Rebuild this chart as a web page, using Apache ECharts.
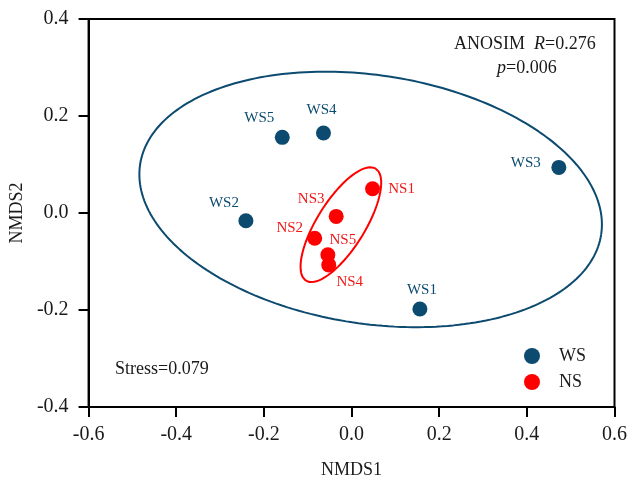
<!DOCTYPE html>
<html>
<head>
<meta charset="utf-8">
<script src="https://cdn.jsdelivr.net/npm/echarts@6/dist/echarts.min.js"></script>
<style>
html,body{margin:0;padding:0;background:#fff;}
#chart{width:630px;height:484px;}
</style>
</head>
<body>
<div id="chart"></div>
<script>
// ---- data ----
const wsNames = ['WS1','WS2','WS3','WS4','WS5'];
const wsX = [0.156, -0.241, 0.473, -0.064, -0.158];
const wsY = [-0.198, -0.016, 0.094, 0.165, 0.156];
const nsNames = ['NS1','NS2','NS3','NS4','NS5'];
const nsX = [0.048, -0.084, -0.035, -0.052, -0.054];
const nsY = [0.050, -0.052, -0.007, -0.107, -0.086];
const xTickLabels = ['-0.6','-0.4','-0.2','0.0','0.2','0.4','0.6'];
const yTickLabels = ['-0.4','-0.2','0.0','0.2','0.4'];
// ellipse parameters (center, semi-axis vectors) in data units
const wsEllipseCenter = [0.0436, 0.028];
const wsEllipseAxisA = [0.526, -0.072];
const wsEllipseAxisB = [-0.042, -0.2534];
const nsEllipseCenter = [-0.0243, -0.0241];
const nsEllipseAxisA = [0.0795, 0.1154];
const nsEllipseAxisB = [0.0463, -0.0262];

// ---- label placement (style, not data) ----
const labelOffsets = {
  WS1:[2,-19], WS2:[-22,-18], WS3:[-33,-4], WS4:[-2,-23], WS5:[-23,-19],
  NS1:[29,0], NS2:[-25,-10], NS3:[-25,-17], NS4:[21,17], NS5:[15,-15]
};

const BLUE = '#0c4a70';
const RED = '#ff0000';
const FONT = '"Liberation Serif","Times New Roman",serif';

function ellipsePoints(c, a, b) {
  const pts = [];
  const n = 240;
  for (let i = 0; i <= n; i++) {
    const t = 2 * Math.PI * i / n;
    pts.push([c[0] + a[0]*Math.cos(t) + b[0]*Math.sin(t),
              c[1] + a[1]*Math.cos(t) + b[1]*Math.sin(t)]);
  }
  return pts;
}

function pointData(names, xs, ys) {
  return names.map((nm, i) => ({
    name: nm,
    value: [xs[i], ys[i]],
    label: { offset: labelOffsets[nm] }
  }));
}

const chart = echarts.init(document.getElementById('chart'), null, {renderer: 'canvas'});

const axisCommon = {
  type: 'value',
  interval: 0.2,
  splitLine: { show: false },
  axisLine: { show: true, onZero: false, lineStyle: { color: '#000', width: 2 } },
  axisTick: { show: true, inside: false, length: 10, lineStyle: { color: '#000', width: 2 } },
  nameTextStyle: { fontFamily: FONT, fontSize: 18, color: '#1a1a1a' }
};

const option = {
  backgroundColor: '#fff',
  animation: false,
  grid: { left: 88, right: 14, top: 19, bottom: 76, show: true, borderColor: '#000', borderWidth: 2, backgroundColor: 'transparent' },
  xAxis: Object.assign({}, axisCommon, {
    min: -0.6, max: 0.6,
    name: 'NMDS1', nameLocation: 'middle', nameGap: 54,
    axisLabel: { margin: 18, fontFamily: FONT, fontSize: 20, color: '#1a1a1a',
      formatter: v => xTickLabels[Math.round((v + 0.6) / 0.2)] }
  }),
  yAxis: Object.assign({}, axisCommon, {
    min: -0.4, max: 0.4,
    name: 'NMDS2', nameLocation: 'middle', nameGap: 61, nameRotate: 90,
    axisLabel: { margin: 20, fontFamily: FONT, fontSize: 20, color: '#1a1a1a',
      formatter: v => yTickLabels[Math.round((v + 0.4) / 0.2)] }
  }),
  legend: {
    data: ['WS', 'NS'],
    orient: 'vertical',
    left: 519, top: 342,
    itemWidth: 16, itemHeight: 16, itemGap: 8,
    icon: 'circle',
    textStyle: { fontFamily: FONT, fontSize: 18, color: '#1a1a1a', padding: [0, 0, 0, 14] }
  },
  series: [
    { type: 'line', name: 'wsEllipse', data: ellipsePoints(wsEllipseCenter, wsEllipseAxisA, wsEllipseAxisB),
      showSymbol: false, symbol: 'none', smooth: false, silent: true, z: 1,
      lineStyle: { color: BLUE, width: 2 } },
    { type: 'line', name: 'nsEllipse', data: ellipsePoints(nsEllipseCenter, nsEllipseAxisA, nsEllipseAxisB),
      showSymbol: false, symbol: 'none', smooth: false, silent: true, z: 1,
      lineStyle: { color: RED, width: 2 } },
    { type: 'scatter', name: 'WS', data: pointData(wsNames, wsX, wsY), symbolSize: 15, z: 3,
      itemStyle: { color: BLUE, opacity: 1 },
      label: { show: true, position: 'inside', formatter: '{b}', fontFamily: FONT, fontSize: 15, color: BLUE } },
    { type: 'scatter', name: 'NS', data: pointData(nsNames, nsX, nsY), symbolSize: 15, z: 3,
      itemStyle: { color: RED, opacity: 1 },
      label: { show: true, position: 'inside', formatter: '{b}', fontFamily: FONT, fontSize: 15, color: '#f21818' } }
  ],
  graphic: [
    { type: 'text', left: 454, top: 35, z: 10,
      style: { text: '{a|ANOSIM  }{i|R}{a|=0.276}', rich: {
        a: { fontFamily: FONT, fontSize: 18, fill: '#1a1a1a' },
        i: { fontFamily: FONT, fontSize: 18, fontStyle: 'italic', fill: '#1a1a1a' } } } },
    { type: 'text', left: 497, top: 59, z: 10,
      style: { text: '{i|p}{a|=0.006}', rich: {
        a: { fontFamily: FONT, fontSize: 18, fill: '#1a1a1a' },
        i: { fontFamily: FONT, fontSize: 18, fontStyle: 'italic', fill: '#1a1a1a' } } } },
    { type: 'text', left: 115, top: 360, z: 10,
      style: { text: 'Stress=0.079', fontFamily: FONT, fontSize: 18, fill: '#1a1a1a' } }
  ]
};
chart.setOption(option);
</script>
</body>
</html>
